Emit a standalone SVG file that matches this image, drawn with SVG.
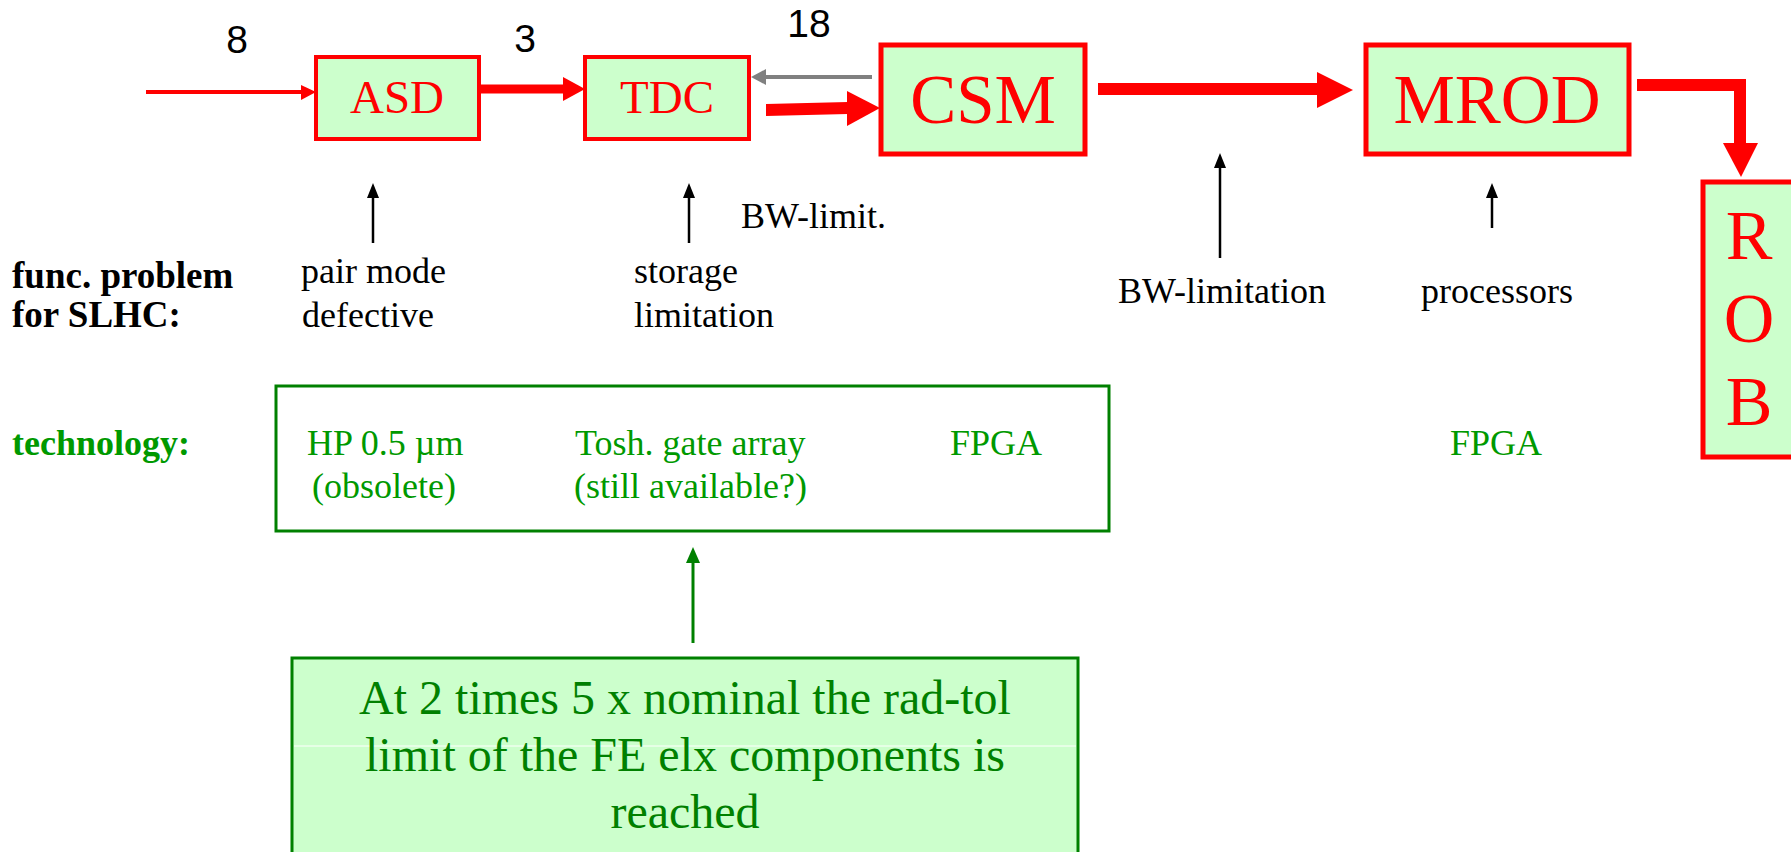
<svg xmlns="http://www.w3.org/2000/svg" width="1791" height="852" viewBox="0 0 1791 852">
  <style>
    .blk { fill: #ccffcc; stroke: #ff0000; stroke-width: 4; }
    .big { stroke-width: 5; }
    .lbl { font-family: "Liberation Serif", "Times New Roman", serif; fill: #ff0000; text-anchor: middle; }
    .num { font-family: "Liberation Sans", Arial, sans-serif; font-size: 39px; fill: #000; text-anchor: middle; }
    .note { font-family: "Liberation Serif", "Times New Roman", serif; font-size: 36px; fill: #000; }
    .bold { font-weight: bold; font-size: 37px; }
    .tech { font-family: "Liberation Serif", "Times New Roman", serif; font-size: 36px; fill: #009900; }
    .rad { font-family: "Liberation Serif", "Times New Roman", serif; font-size: 48px; fill: #008000; text-anchor: middle; }
    .thin { stroke: #000; stroke-width: 2.5; fill: none; }
    .red { fill: #ff0000; }
  </style>

  <!-- signal flow along the readout chain -->
  <g id="connectors">
    <!-- input into ASD -->
    <line x1="146" y1="92" x2="303" y2="92" stroke="#ff0000" stroke-width="4"/>
    <polygon class="red" points="301,85 316,92 301,100"/>
    <!-- ASD to TDC -->
    <line x1="479" y1="89" x2="565" y2="89" stroke="#ff0000" stroke-width="9"/>
    <polygon class="red" points="563,77 585,89 563,101"/>
    <!-- CSM back to TDC (control) -->
    <line x1="872" y1="77" x2="764" y2="77" stroke="#808080" stroke-width="4"/>
    <polygon fill="#808080" points="766,69 751,77 766,85"/>
    <!-- TDC to CSM -->
    <polygon class="red" points="766,104 848,102 848,114 766,116"/>
    <polygon class="red" points="847,91 880,108 847,126"/>
    <!-- CSM to MROD -->
    <line x1="1098" y1="89" x2="1319" y2="89" stroke="#ff0000" stroke-width="12"/>
    <polygon class="red" points="1317,72 1353,90 1317,108"/>
    <!-- MROD to ROB -->
    <polyline points="1637,85 1740,85 1740,145" fill="none" stroke="#ff0000" stroke-width="12" stroke-linejoin="miter"/>
    <polygon class="red" points="1723,143 1758,143 1741,177"/>
    <!-- problem pointers -->
    <line class="thin" x1="373" y1="243" x2="373" y2="196"/>
    <polygon points="367,198 373,183 379,198"/>
    <line class="thin" x1="689" y1="243" x2="689" y2="196"/>
    <polygon points="683,198 689,183 695,198"/>
    <line class="thin" x1="1220" y1="258" x2="1220" y2="166"/>
    <polygon points="1214,168 1220,153 1226,168"/>
    <line class="thin" x1="1492" y1="228" x2="1492" y2="196"/>
    <polygon points="1486,198 1492,183 1498,198"/>
    <!-- radiation note pointer -->
    <line x1="693" y1="643" x2="693" y2="560" stroke="#008000" stroke-width="3"/>
    <polygon fill="#008000" points="686,563 693,547 700,563"/>
  </g>

  <!-- link multiplicities -->
  <g id="counts">
    <text class="num" x="237" y="53">8</text>
    <text class="num" x="525" y="52">3</text>
    <text class="num" x="809" y="37">18</text>
  </g>

  <g id="asd">
    <rect class="blk" x="316" y="57" width="163" height="82"/>
    <text class="lbl" x="397" y="113" font-size="47">ASD</text>
  </g>
  <g id="tdc">
    <rect class="blk" x="585" y="57" width="164" height="82"/>
    <text class="lbl" x="667" y="113" font-size="47">TDC</text>
  </g>
  <g id="csm">
    <rect class="blk big" x="881" y="45" width="204" height="109"/>
    <text class="lbl" x="983" y="123" font-size="69">CSM</text>
  </g>
  <g id="mrod">
    <rect class="blk big" x="1366" y="45" width="263" height="109"/>
    <text class="lbl" x="1497" y="123" font-size="69">MROD</text>
  </g>
  <g id="rob">
    <rect class="blk big" x="1703" y="182" width="110" height="275"/>
    <text class="lbl" x="1749" y="259" font-size="70">R</text>
    <text class="lbl" x="1749" y="342" font-size="70">O</text>
    <text class="lbl" x="1749" y="425" font-size="70">B</text>
  </g>

  <!-- functional problems -->
  <g id="problems">
    <text class="note" x="741" y="228">BW-limit.</text>
    <text class="note bold" x="12" y="288">func. problem</text>
    <text class="note bold" x="12" y="327">for SLHC:</text>
    <text class="note" x="301" y="283">pair mode</text>
    <text class="note" x="302" y="327">defective</text>
    <text class="note" x="634" y="283">storage</text>
    <text class="note" x="634" y="327">limitation</text>
    <text class="note" x="1118" y="303">BW-limitation</text>
    <text class="note" x="1421" y="303">processors</text>
  </g>

  <!-- technologies -->
  <g id="technology">
    <text class="tech" x="12" y="455" font-weight="bold" font-size="37">technology:</text>
    <rect x="276" y="386" width="833" height="145" fill="none" stroke="#008000" stroke-width="3"/>
    <text class="tech" x="307" y="455">HP 0.5 µm</text>
    <text class="tech" x="312" y="498">(obsolete)</text>
    <text class="tech" x="575" y="455">Tosh. gate array</text>
    <text class="tech" x="574" y="498">(still available?)</text>
    <text class="tech" x="950" y="455">FPGA</text>
    <text class="tech" x="1450" y="455">FPGA</text>
  </g>

  <!-- radiation tolerance note -->
  <g id="radtol">
    <rect x="292" y="658" width="786" height="210" fill="#ccffcc" stroke="#008000" stroke-width="3"/>
    <line x1="294" y1="746" x2="1076" y2="746" stroke="#ffffff" stroke-width="1"/>
    <text class="rad" x="685" y="714">At 2 times 5 x nominal the rad-tol</text>
    <text class="rad" x="685" y="771">limit of the FE elx components is</text>
    <text class="rad" x="685" y="828">reached</text>
  </g>
</svg>
